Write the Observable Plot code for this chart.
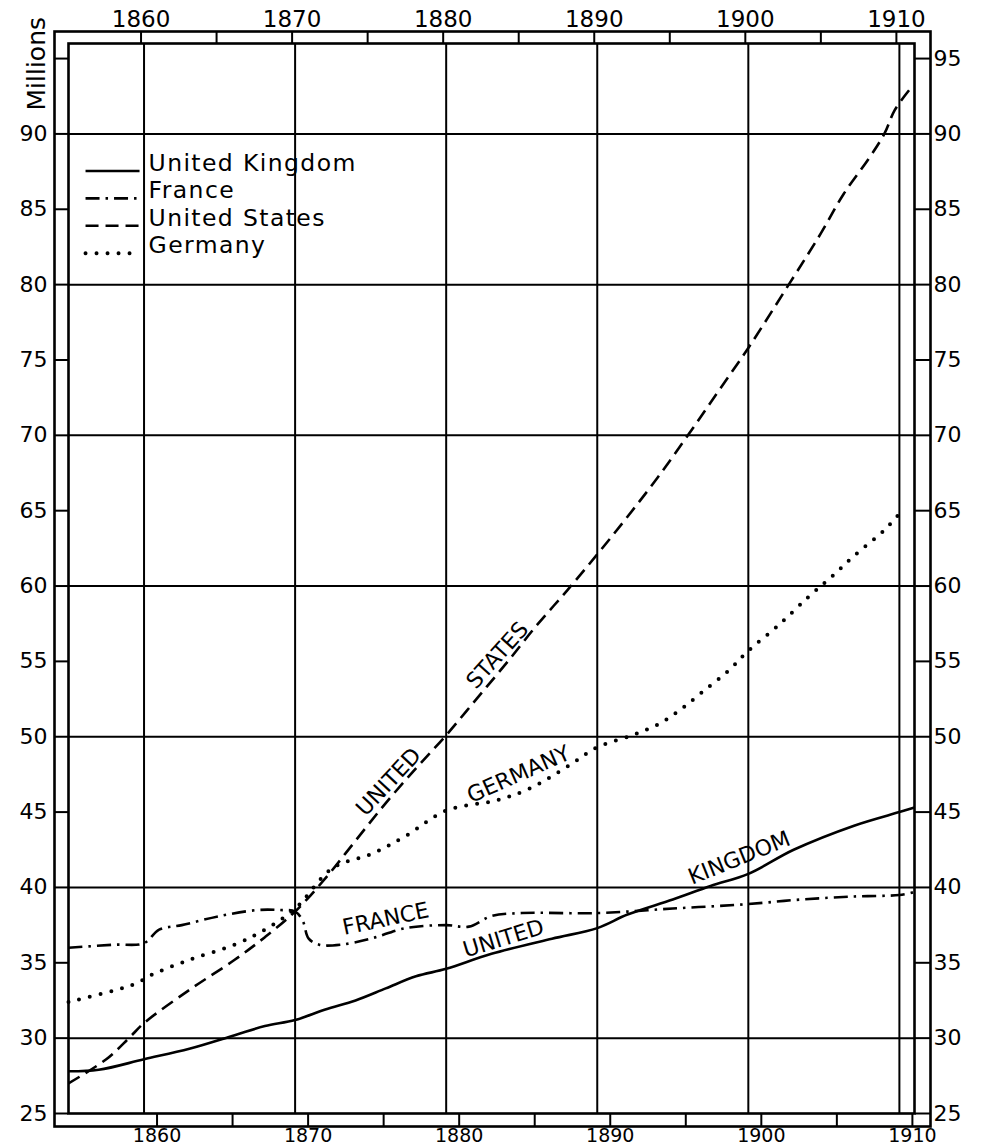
<!DOCTYPE html>
<html>
<head>
<meta charset="utf-8">
<script src="https://cdn.jsdelivr.net/npm/d3@7"></script>
<script src="https://cdn.jsdelivr.net/npm/@observablehq/plot@0.6"></script>
<style>
  html, body { margin: 0; padding: 0; background: #fff; }
  #chart { width: 987px; height: 1145px; }
</style>
</head>
<body>
<div id="chart"></div>
<script>
// ---- Data (population, millions) ----
const unitedKingdom = [
  [1855, 27.8], [1857, 27.9], [1860, 28.6], [1863, 29.3], [1866, 30.2], [1868, 30.8],
  [1870, 31.2], [1872, 31.9], [1874, 32.5], [1876, 33.3], [1878, 34.1], [1880, 34.6],
  [1883, 35.6], [1887, 36.6], [1890, 37.3], [1892, 38.2], [1895, 39.2], [1897.5, 40.1],
  [1900, 40.9], [1903, 42.5], [1907, 44.1], [1910, 45.0], [1911, 45.3]
];
const france = [
  [1855, 36.0], [1858, 36.2], [1860, 36.3], [1861, 37.2], [1862.5, 37.5], [1865, 38.1],
  [1867.5, 38.5], [1869, 38.5], [1870, 38.4], [1870.5, 37.8], [1870.9, 36.6], [1871.6, 36.2],
  [1873, 36.2], [1875, 36.6], [1877.3, 37.3], [1880, 37.5], [1881.5, 37.4], [1883, 38.1],
  [1885, 38.3], [1890, 38.3], [1895, 38.6], [1900, 38.9], [1903.5, 39.2], [1907, 39.4],
  [1910, 39.5], [1911, 39.7]
];
const unitedStates = [
  [1855, 27.0], [1857.5, 28.6], [1859, 30.0], [1860, 31.0], [1863, 33.2], [1866, 35.2],
  [1868, 36.7], [1870, 38.4], [1872, 40.6], [1874, 43.1], [1876, 45.6], [1878, 47.9],
  [1880, 50.1], [1882, 52.5], [1884, 54.9], [1886, 57.4], [1888, 59.7], [1890, 62.1],
  [1892, 64.6], [1894, 67.2], [1896, 70.0], [1898, 72.9], [1900, 75.8], [1902.8, 80.2],
  [1904.8, 83.4], [1906.3, 86.0], [1908, 88.4], [1909, 90.0], [1909.7, 91.6], [1910.8, 93.1]
];
const germany = [
  [1855, 32.4], [1859.4, 33.6], [1860.5, 34.2], [1863, 35.2], [1866, 36.2], [1868, 37.2],
  [1870, 38.6], [1872.5, 41.3], [1875, 42.2], [1877.3, 43.4], [1880, 45.1], [1883.4, 45.8],
  [1885.6, 46.6], [1888.3, 48.2], [1890, 49.3], [1892.3, 50.1], [1894, 50.8], [1895.5, 51.8],
  [1897, 53.0], [1898.7, 54.4], [1900, 55.7], [1902, 57.4], [1904, 59.3], [1905.5, 60.6],
  [1907, 62.0], [1909, 63.7], [1910, 64.8]
];

const seriesNames = ["United Kingdom", "France", "United States", "Germany"];
const seriesData = [unitedKingdom, france, unitedStates, germany];

// tick values / labels
const yearTicks = [1860, 1865, 1870, 1875, 1880, 1885, 1890, 1895, 1900, 1905, 1910];
const yearLabels = [1860, 1870, 1880, 1890, 1900, 1910];
const millionTicks = [25, 30, 35, 40, 45, 50, 55, 60, 65, 70, 75, 80, 85, 90, 95];
const millionGrid = [30, 40, 50, 60, 70, 80, 90];
const yAxisTitle = "Millions";

// inline labels along the curves
const lineLabelText = ["UNITED", "STATES", "GERMANY", "FRANCE", "UNITED", "KINGDOM"];
const lineLabelYear = [1876.2, 1883.4, 1884.8, 1876.0, 1883.8, 1899.4];
const lineLabelValue = [47.0, 55.4, 47.5, 37.9, 36.6, 41.95];
const lineLabelAngle = [-47, -48, -24, -12, -17, -22];

// ---- styles ----
const lineStyles = [
  {strokeWidth: 2.6, strokeDasharray: null, strokeLinecap: "butt"},
  {strokeWidth: 2.6, strokeDasharray: "14 6 2.5 6", strokeLinecap: "butt"},
  {strokeWidth: 2.6, strokeDasharray: "13 7", strokeLinecap: "butt"},
  {strokeWidth: 4, strokeDasharray: "0 11", strokeLinecap: "round"}
];

const tables = seriesData.map((arr, i) => arr.map(([year, value]) => ({series: seriesNames[i], year, value})));
const labels = lineLabelText.map((t, i) => ({text: t, year: lineLabelYear[i], value: lineLabelValue[i], angle: lineLabelAngle[i]}));

function legend(index, scales, values, dimensions) {
  const g = d3.create("svg:g");
  const xEnd = scales.x(1860) - 4;
  const y0 = dimensions.marginTop + 128;
  const step = 27.4;
  seriesNames.forEach((name, i) => {
    const y = y0 + i * step;
    const s = lineStyles[i];
    g.append("line")
      .attr("x1", xEnd - 54).attr("x2", xEnd).attr("y1", y).attr("y2", y)
      .attr("stroke", "#000").attr("stroke-width", s.strokeWidth)
      .attr("stroke-dasharray", s.strokeDasharray)
      .attr("stroke-linecap", s.strokeLinecap);
    g.append("text")
      .attr("x", xEnd + 9).attr("y", y)
      .attr("text-anchor", "start")
      .attr("font-size", 23.5).attr("letter-spacing", "1.4px").attr("fill", "#000")
      .text(name);
  });
  return g.node();
}

const chart = Plot.plot({
  width: 987,
  height: 1145,
  marginLeft: 68,
  marginRight: 73,
  marginTop: 43,
  marginBottom: 32,
  style: {fontFamily: "DejaVu Sans", fontSize: "22px", background: "#fff", color: "#000"},
  x: {domain: [1855, 1911]},
  y: {domain: [25, 96]},
  marks: [
    Plot.ruleX(yearLabels, {stroke: "#000", strokeWidth: 2}),
    Plot.ruleY(millionGrid, {stroke: "#000", strokeWidth: 2}),
    Plot.frame({stroke: "#000", strokeWidth: 2.6}),
    Plot.frame({stroke: "#000", strokeWidth: 2.6, insetLeft: -14, insetRight: -16, insetTop: -12, insetBottom: -13}),
    Plot.axisX({anchor: "top", ticks: yearTicks, tickSize: 12, tickPadding: 5, strokeWidth: 2,
      tickFormat: d => yearLabels.includes(d) ? String(d) : "", fontSize: 23, dx: -3, label: null}),
    Plot.axisX({anchor: "bottom", ticks: yearTicks, tickSize: 13, tickPadding: 2, strokeWidth: 2,
      tickFormat: d => yearLabels.includes(d) ? String(d) : "", fontSize: 19, dx: 13, label: null}),
    Plot.axisY({anchor: "left", ticks: millionTicks, tickSize: 14, tickPadding: 7, strokeWidth: 2,
      tickFormat: d => d === 95 ? "" : String(d), fontSize: 22, label: null}),
    Plot.axisY({anchor: "right", ticks: millionTicks, tickSize: 16, tickPadding: 3, strokeWidth: 2,
      tickFormat: d => String(d), fontSize: 22, label: null}),
    Plot.text([yAxisTitle], {frameAnchor: "top-left", dx: -41, dy: 67, rotate: -90, textAnchor: "start", fontSize: 25}),
    ...tables.map((t, i) => Plot.line(t, {
      x: "year", y: "value", stroke: "#000", curve: "catmull-rom", ...lineStyles[i]
    })),
    Plot.text(labels, {x: "year", y: "value", text: "text", rotate: "angle", fontSize: 22, fill: "#000"}),
    legend
  ]
});
document.getElementById("chart").appendChild(chart);
</script>
</body>
</html>
